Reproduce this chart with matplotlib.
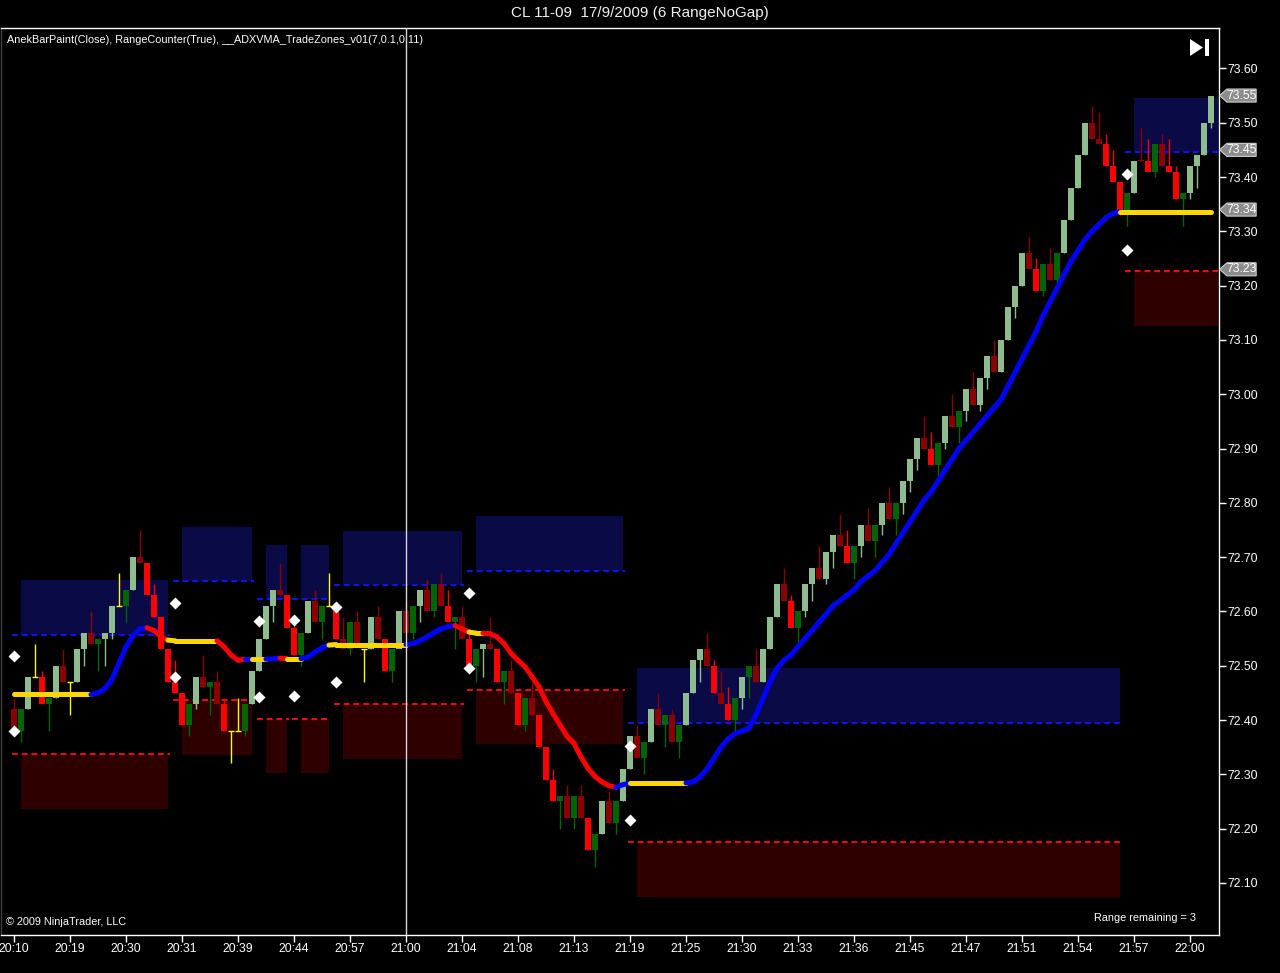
import matplotlib
matplotlib.use('Agg')
import matplotlib.pyplot as plt
from matplotlib.patches import Polygon
from matplotlib.collections import LineCollection
import matplotlib.transforms as mtransforms

plt.rcParams['font.family'] = ['Liberation Sans', 'DejaVu Sans']

# CL 11-09, 6 tick range bars. Prices in cents above 72.00
first_open = 42
closes = [38, 42, 48, 48, 43, 44, 50, 47, 47, 53,
          56, 54, 55, 56, 61, 61, 64, 70, 69, 63,
          59, 53, 47, 45, 39, 43, 48, 46, 47, 43,
          38, 38, 38, 43, 49, 55, 61, 64, 63, 57,
          52, 56, 62, 58, 61, 61, 55, 53, 58, 54,
          53, 59, 55, 49, 53, 60, 56, 61, 64, 60,
          65, 61, 58, 59, 55, 50, 53, 54, 53, 47,
          49, 45, 39, 44, 41, 35, 29, 25, 26, 22,
          26, 22, 16, 19, 25, 21, 25, 31, 37, 33,
          36, 42, 39, 41, 36, 39, 45, 51, 53, 50,
          45, 43, 40, 44, 48, 50, 47, 53, 59, 65,
          62, 57, 60, 65, 68, 66, 71, 74, 72, 69,
          72, 76, 73, 76, 80, 77, 80, 84, 88, 92,
          90, 87, 91, 96, 94, 97, 101, 98, 103, 107,
          104, 110, 116, 120, 126, 123, 119, 124, 121, 126,
          132, 138, 144, 150, 147, 146, 142, 139, 133, 137,
          143, 143, 141, 146, 142, 141, 136, 137, 142, 144,
          150, 155]
highs = [44, 42, 48, 54, 49, 44, 50, 53, 47, 53,
         56, 60, 55, 56, 61, 67, 64, 70, 75, 69,
         65, 59, 53, 51, 45, 43, 48, 52, 47, 49,
         44, 38, 44, 43, 49, 55, 61, 64, 69, 63,
         58, 56, 62, 64, 61, 67, 61, 59, 58, 60,
         53, 59, 61, 55, 53, 60, 62, 61, 64, 66,
         65, 67, 64, 59, 61, 56, 53, 54, 59, 53,
         49, 51, 45, 44, 47, 41, 35, 31, 26, 28,
         26, 28, 22, 19, 25, 27, 25, 31, 37, 39,
         36, 42, 45, 41, 42, 39, 45, 51, 53, 56,
         51, 49, 46, 44, 48, 50, 53, 53, 59, 65,
         68, 63, 60, 65, 68, 72, 71, 74, 78, 75,
         72, 76, 79, 76, 80, 83, 80, 84, 88, 92,
         96, 93, 91, 96, 100, 97, 101, 104, 103, 107,
         110, 110, 116, 120, 126, 129, 125, 124, 127, 126,
         132, 138, 144, 150, 153, 152, 148, 145, 139, 137,
         143, 149, 147, 146, 148, 147, 142, 137, 142, 144,
         150, 155]
lows = [38, 36, 42, 48, 43, 38, 44, 47, 41, 47,
        50, 54, 49, 50, 55, 61, 58, 64, 69, 63,
        59, 53, 47, 45, 39, 37, 42, 46, 41, 43,
        38, 32, 38, 37, 43, 49, 55, 58, 63, 57,
        52, 50, 56, 58, 55, 61, 55, 53, 52, 54,
        47, 53, 55, 49, 47, 54, 56, 55, 58, 60,
        59, 61, 58, 53, 55, 50, 47, 48, 53, 47,
        43, 45, 39, 38, 41, 35, 29, 25, 20, 22,
        20, 22, 16, 13, 19, 21, 19, 25, 31, 33,
        30, 36, 39, 35, 36, 33, 39, 45, 47, 50,
        45, 43, 40, 38, 42, 44, 47, 47, 53, 59,
        62, 57, 54, 59, 62, 66, 65, 68, 72, 69,
        66, 70, 73, 70, 74, 77, 74, 78, 82, 86,
        90, 87, 85, 90, 94, 91, 95, 98, 97, 101,
        104, 104, 110, 114, 120, 123, 119, 118, 121, 120,
        126, 132, 138, 144, 147, 146, 142, 139, 133, 131,
        137, 143, 141, 140, 142, 141, 136, 131, 136, 138,
        144, 149]
# G light green, g dark green, R red, r dark red, Y doji
bar_paint = ("rgGYRgGrYG" "GrgGGYgGrR" "RRRRRgGrgr" "RYYgGGGGrR" "RgGrgYRrgr"
             "YGrRgGrgGr" "grRgrRgGrR" "grRgrRRRgr" "grRgGrgGGr" "gGrgrgGGGr"
             "RrRgGgrGGG" "rRgGGrGGrR" "gGrgGrgGGG" "rRgGrgGrGG" "rGGGGrRgrg"
             "GGGGrrRRRg" "GrRgrRRgGG" "GG")

# ADXVMA(7) line, cents above 72.00, and its state per bar
adxvma = ([44.7] * 12 +
          [45.0, 45.8, 47.5, 50.5, 53.5, 55.5, 56.8, 57.0, 56.5, 55.3, 54.7] +
          [54.6] * 7 +
          [53.5, 52.0, 51.0, 51.2, 51.2, 51.2, 51.2, 51.3, 51.4, 51.3, 51.3, 51.3,
           51.6, 52.5, 53.3, 53.8] +
          [53.9] * 11 +
          [54.1, 54.6, 55.3, 56.1, 56.8, 57.2, 57.4, 56.8, 56.2, 56.0, 56.0,
           55.9, 55.3, 54.1, 52.3, 51.0, 49.8, 48.0, 46.1, 43.4, 41.2, 39.1, 37.0,
           35.7, 33.2, 31.1, 29.6, 28.6, 27.9, 27.6, 28.1, 28.4] +
          [28.4] * 8 +
          [28.6, 29.5, 31.0, 33.0, 35.0, 36.5, 37.5, 38.0, 38.5, 41.0, 44.0, 47.0, 49.5,
           51.0, 52.0, 53.5, 55.0, 56.5, 58.0, 59.5, 61.0, 62.0, 63.0,
           64.0, 65.5, 66.5, 67.5, 69.0, 70.5, 72.5, 74.5, 76.5, 78.5,
           80.5, 82.0, 84.0, 86.0, 88.0, 90.0, 91.5, 93.0, 94.5, 96.0,
           97.5, 99.0, 101.5, 104.0, 106.5, 109.0, 111.5, 114.5, 117.0, 119.5,
           122.0, 124.5, 126.5, 128.5, 130.0, 131.3, 132.5, 133.3, 133.6] +
          [133.6] * 13)
adx_state = ("Y" * 12 + "B" * 8 + "R" * 3 + "Y" * 7 + "R" * 4 + "B" + "YY" + "BB" + "R" +
             "YY" + "B" * 4 + "Y" * 11 + "B" * 7 + "RR" + "YY" + "R" * 19 + "BB" +
             "Y" * 8 + "B" * 62 + "Y" * 13)

# trade zones: start bar, end bar, mid price
zone_start = [0, 23, 35, 40, 46, 65, 88, 159]
zone_end = [22, 34, 39, 45, 64, 87, 158, 172]
zone_mid = [72.447, 72.546, 72.512, 72.512, 72.539, 72.565, 72.285, 73.336]
zone_band = 0.11
zone_box = 0.10

diamond_bars = [0, 0, 23, 23, 35, 35, 40, 40, 46, 46, 65, 65, 88, 88, 159, 159]
diamond_prices = [72.518, 72.380, 72.616, 72.479, 72.582, 72.442, 72.584, 72.444,
                  72.609, 72.470, 72.634, 72.495, 72.353, 72.215, 73.405, 73.266]

tag_prices = [73.55, 73.45, 73.34, 73.23]
time_labels = ['20:10', '20:19', '20:30', '20:31', '20:39', '20:44', '20:57', '21:00',
               '21:04', '21:08', '21:13', '21:19', '21:25', '21:30', '21:33', '21:36',
               '21:45', '21:47', '21:51', '21:54', '21:57', '22:00']
cursor_bar = 56

paint = {'G': '#8fbc8f', 'g': '#006400', 'R': '#ff0000', 'r': '#8b0000', 'Y': '#ffff00'}
adx_col = {'Y': '#ffd700', 'B': '#0000ff', 'R': '#ff0000'}

W, H = 1280, 973
fig = plt.figure(figsize=(W / 100, H / 100), dpi=100, facecolor='black')
ax = fig.add_axes([1 / W, 38 / H, 1218 / W, 907 / H], facecolor='black')
ax.set_xlim(-1.857, 172.14)
ax.set_ylim(72.0041, 73.6744)

# zones
for s, e, m in zip(zone_start, zone_end, zone_mid):
    ax.fill_between([s + 1, e], m + zone_band, m + zone_band + zone_box,
                    color='#0a0a46', lw=0, zorder=1)
    ax.fill_between([s + 1, e], m - zone_band - zone_box, m - zone_band,
                    color='#2e0000', lw=0, zorder=1)
    ax.plot([s - 0.3, e + 0.3], [m + zone_band] * 2, color='#1010ff', lw=1.4,
            ls=(0, (3, 2)), zorder=2)
    ax.plot([s - 0.3, e + 0.3], [m - zone_band] * 2, color='#e81010', lw=1.4,
            ls=(0, (3, 2)), zorder=2)

# candles
opens = [first_open] + closes[:-1]
for i, (o, c, h, l, p) in enumerate(zip(opens, closes, highs, lows, bar_paint)):
    o, c, h, l = [72 + v / 100 for v in (o, c, h, l)]
    col = paint[p]
    ax.vlines(i, l, h, color=col, lw=1, zorder=3)
    if p == 'Y':
        ax.hlines(c, i - 0.45, i + 0.45, color=col, lw=1, zorder=3)
    else:
        ax.bar(i, max(abs(c - o), 0.002), bottom=min(o, c), width=0.82,
               color=col, lw=0, zorder=3)

# ADXVMA
ys = [72 + v / 100 for v in adxvma]
segs = [[(i - 1, ys[i - 1]), (i, ys[i])] for i in range(1, len(ys))]
cols = [adx_col[adx_state[i]] for i in range(1, len(ys))]
ax.add_collection(LineCollection(segs, colors=cols, linewidths=3.6,
                                 capstyle='round', zorder=4))

ax.plot(diamond_bars, diamond_prices, 'D', color='white', ms=6.5, mec='none', zorder=5)
ax.axvline(cursor_bar, color='#d8d8d8', lw=1, zorder=6)

# axes styling
for sp in ax.spines.values():
    sp.set_color('white')
    sp.set_linewidth(1)
ax.spines['left'].set_color('#404040')
ax.yaxis.tick_right()
ax.set_yticks([72.1 + 0.1 * k for k in range(16)])
ax.set_yticklabels(['%.2f' % (72.1 + 0.1 * k) for k in range(16)])
ax.set_xticks(range(0, 169, 8))
ax.set_xticklabels(time_labels)
ax.tick_params(colors='white', labelsize=8.8, length=5, width=1, pad=1)
ax.tick_params(axis='y', pad=1)

# price tags on the right axis
tr = mtransforms.blended_transform_factory(ax.transAxes, ax.transData)
for p in tag_prices:
    hh = 0.012
    poly = Polygon([(1.0005, p), (1.0065, p + hh), (1.0305, p + hh),
                    (1.0305, p - hh), (1.0065, p - hh)], closed=True,
                   transform=tr, facecolor='#8c8c8c', edgecolor='#d0d0d0',
                   lw=0.8, clip_on=False, zorder=7)
    ax.add_patch(poly)
    ax.text(1.0185, p, '%.2f' % p, transform=tr, color='white', fontsize=8.8,
            ha='center', va='center', clip_on=False, zorder=8)

fig.text(0.5, 1 - 13 / H, 'CL 11-09  17/9/2009 (6 RangeNoGap)', color='#f0f0f0',
         fontsize=11, ha='center', va='center')
fig.text(7 / W, 1 - 40 / H,
         'AnekBarPaint(Close), RangeCounter(True), __ADXVMA_TradeZones_v01(7,0.1,0.11)',
         color='white', fontsize=7.8, ha='left', va='center')
fig.text(6 / W, 1 - 922 / H, '\u00a9 2009 NinjaTrader, LLC', color='white',
         fontsize=7.8, ha='left', va='center')
fig.text(1196 / W, 1 - 918 / H, 'Range remaining = 3', color='white',
         fontsize=7.8, ha='right', va='center')

# go-to-end icon
fig.patches.append(Polygon([(1190 / W, 1 - 39 / H), (1190 / W, 1 - 56 / H),
                            (1203 / W, 1 - 47.5 / H)], closed=True,
                           transform=fig.transFigure, facecolor='white', lw=0))
fig.patches.append(Polygon([(1205 / W, 1 - 39 / H), (1209 / W, 1 - 39 / H),
                            (1209 / W, 1 - 56 / H), (1205 / W, 1 - 56 / H)],
                           closed=True, transform=fig.transFigure,
                           facecolor='white', lw=0))

fig.savefig('out.png', dpi=100, facecolor='black')
